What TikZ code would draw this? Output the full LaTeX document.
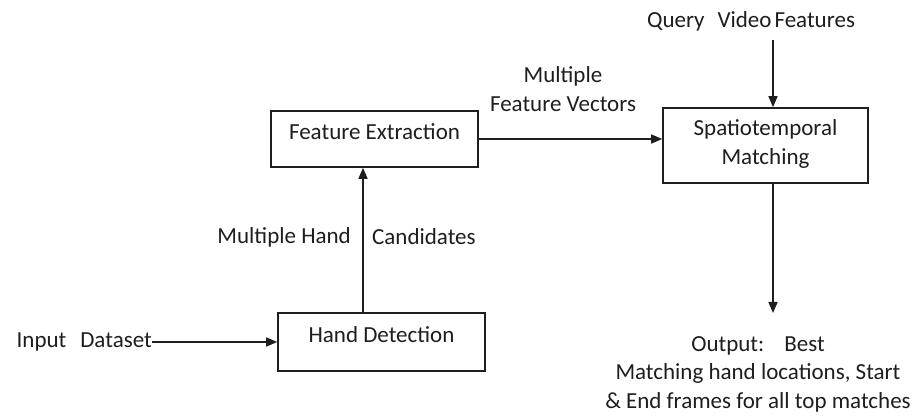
\documentclass[tikz,border=0pt]{standalone}
\usepackage{fontspec}
\setmainfont{Carlito}
\usetikzlibrary{arrows.meta}
\definecolor{ink}{HTML}{1E1E1E}
\tikzset{
  box/.style={draw=ink, line width=1.6pt, fill=white, inner sep=0pt},
  lbl/.style={text=ink, inner sep=0pt, font=\fontsize{23}{28.5}\selectfont, align=center},
  conn/.style={draw=ink, line width=1.6pt, -{Triangle[length=11pt,width=9pt]}},
}
\begin{document}
\begin{tikzpicture}[x=1pt,y=-1pt]
\useasboundingbox (0,0) rectangle (914,419);
% boxes
\node[box, minimum width=207pt, minimum height=56pt] (fe) at (374.5,139) {};
\node[lbl] (fet) at (374.5,132) {Feature Extraction};
\node[box, minimum width=205pt, minimum height=75pt] (st) at (765.5,145.5) {};
\node[lbl] (stt) at (765.5,144) {Spatiotemporal\\Matching};
\node[box, minimum width=207pt, minimum height=58pt] (hd) at (381.5,342) {};
\node[lbl] (hdt) at (381.5,335) {Hand Detection};
% labels
\node[lbl, anchor=east] (in) at (152,342) {Input\hspace{14pt}Dataset};
\node[lbl, anchor=east] (mh) at (351,237) {Multiple Hand};
\node[lbl, anchor=west] (cand) at (372,237) {Candidates};
\node[lbl] (mfv) at (563,89) {Multiple\\Feature Vectors};
\node[lbl] (q) at (751,21) {Query\hspace{13pt}Video\hspace{3pt}Features};
\node[lbl] (out) at (758,374) {Output:\hspace{20pt}Best\\Matching hand locations, Start\\\& End frames for all top matches};
% connectors
\coordinate (qe) at (773,40);
\coordinate (oe) at (773,313);
\draw[conn] (in.east) -- (hd.west);
\draw[conn] (hd.north -| 363,0) -- (fe.south -| 363,0);
\draw[conn] (fe.east) -- (fe.east -| st.west);
\draw[conn] (qe) -- (qe |- st.north);
\draw[conn] (oe |- st.south) -- (oe);
\end{tikzpicture}
\end{document}
